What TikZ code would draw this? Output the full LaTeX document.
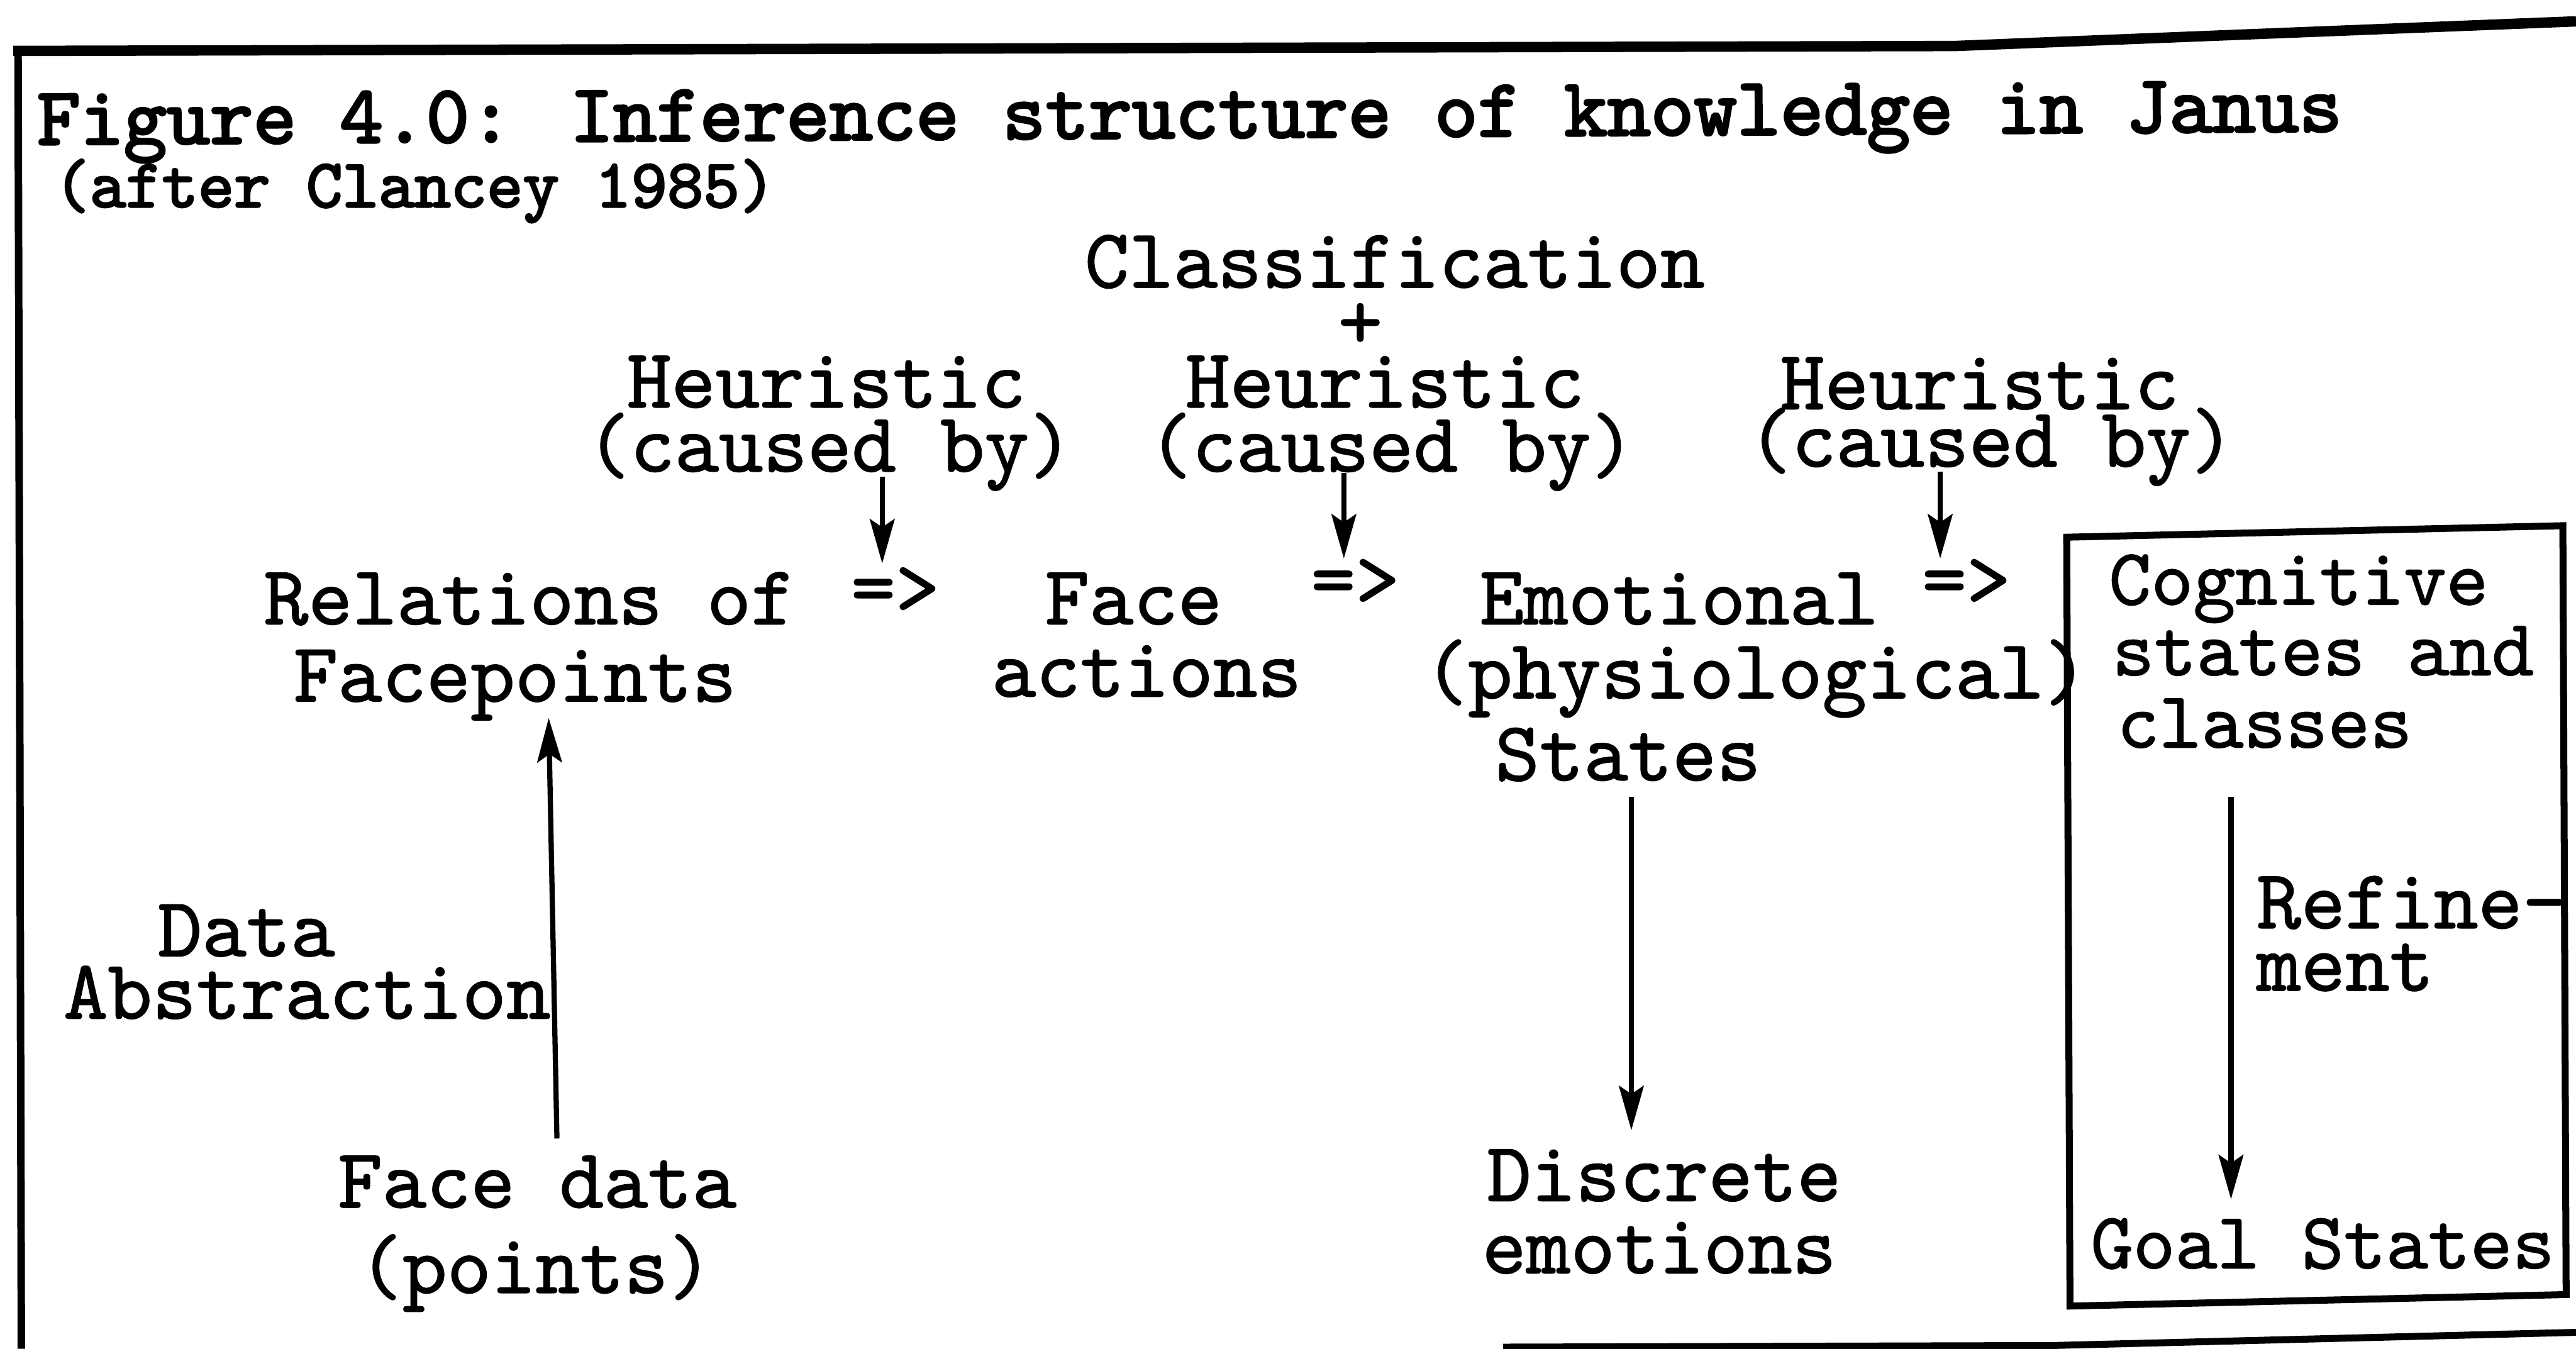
\documentclass[tikz,border=0pt]{standalone}
\usepackage{fontspec}
\usetikzlibrary{arrows.meta,calc}
\newfontfamily\bodyfont{lmmono10-regular}[Extension=.otf, FakeBold=1.2]
\newfontfamily\headfont{lmmono10-regular}[Extension=.otf, FakeBold=2.8]

\tikzset{
  lbl/.style={inner sep=0pt, font=\bodyfont\fontsize{14.6pt}{17pt}\selectfont},
  lblw/.style={lbl, anchor=base west},
  lblc/.style={lbl, anchor=base},
  boxlbl/.style={lblw, font=\bodyfont\fontsize{13.9pt}{16pt}\selectfont},
  arr/.style={line width=0.9pt, -{Stealth[length=0.27cm,width=0.15cm,inset=0.05cm]}},
}

\begin{document}
\begin{tikzpicture}[x=0.01cm,y=-0.01cm]
\useasboundingbox (0,0) rectangle (1568,821);

% outer frame: top rule, left rule, bottom rule
\draw[line width=1.8pt] (8,31) -- (1190,28) -- (1568,13);
\draw[line width=1.3pt] (11,30) -- (13,821);
\draw[line width=1.2pt] (915,820) -- (1250,819) -- (1568,811);

% title
\node[inner sep=0pt, anchor=base west, rotate=0.33,
      font=\headfont\fontsize{14.25pt}{17pt}\selectfont] (title) at (22,88)
  {Figure 4.0: Inference structure of knowledge in Janus};
\node[inner sep=0pt, anchor=base west,
      font=\headfont\fontsize{11.9pt}{14pt}\selectfont] (sub) at (32,126)
  {(after Clancey 1985)};

% top labels
\node[lblc] (class) at (849,175) {Classification};
\node[lblc] (plus) at (828,212) {+};

\node[lblc] (h1) at (503,248) {Heuristic};
\node[lblc] (cb1) at (505,287) {(caused by)};
\node[lblc] (h2) at (843,248) {Heuristic};
\node[lblc] (cb2) at (847,287) {(caused by)};
\node[lblc] (h3) at (1205,249) {Heuristic};
\node[lblc] (cb3) at (1212,284) {(caused by)};

% main row
\node[lblw] (rel1) at (160,380) {Relations of};
\node[lblw] (rel2) at (178,427) {Facepoints};
\node[lblc] (imp1) at (545,374) {=>};
\node[lblc] (fa1) at (690,380) {Face};
\node[lblc] (fa2) at (698,424) {actions};
\node[lblc] (imp2) at (825,369) {=>};
\node[lblc] (em1) at (1022,380) {Emotional};
\node[lblw] (em2) at (866,425) {(physiological)};
\node[lblc] (em3) at (991,475) {States};
\node[lblc] (imp3) at (1197,369) {=>};

% cognitive box
\draw[line width=1.2pt] (1258,327) -- (1560,320) -- (1562,788) -- (1260,795) -- cycle;
\node[boxlbl] (cog1) at (1283,368) {Cognitive};
\node[boxlbl] (cog2) at (1285,411) {states and};
\node[boxlbl] (cog3) at (1288,455) {classes};
\node[lblw] (ref1) at (1373,565) {Refine-};
\node[lblw] (ref2) at (1373,603) {ment};
\node[boxlbl] (goal) at (1272,772) {Goal States};

% lower labels
\node[lblc] (da1) at (150,582) {Data};
\node[lblw] (da2) at (38,620) {Abstraction};
\node[lblc] (fd1) at (327,735) {Face data};
\node[lblc] (fd2) at (326,787) {(points)};
\node[lblc] (de1) at (1013,731) {Discrete};
\node[lblc] (de2) at (1010,775) {emotions};

% connectors
\draw[arr] ($(cb1.base)+(32,3)$) -- ($(imp1.base)+(-8,-31)$);
\draw[arr] ($(cb2.base)+(-29,1)$) -- ($(imp2.base)+(-7,-29)$);
\draw[arr] ($(cb3.base)+(-31,3)$) -- ($(imp3.base)+(-16,-29)$);
\draw[arr] ($(fd1.base)+(12,-42)$) -- ($(rel2.base west)+(156,10)$);
\draw[arr] ($(em3.base)+(2,10)$) -- ($(de1.base)+(-20,-43)$);
\draw[arr] ($(cog3.base west)+(70,30)$) -- ($(goal.base west)+(86,-42)$);
\end{tikzpicture}
\end{document}
